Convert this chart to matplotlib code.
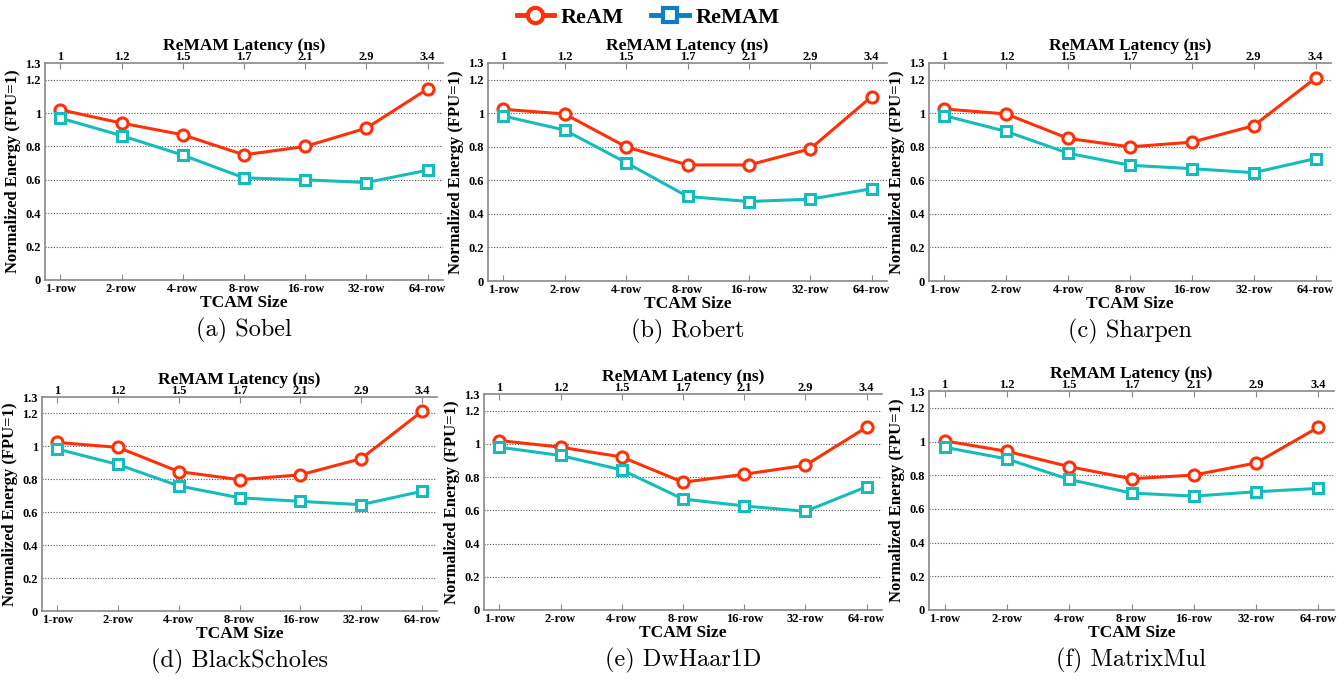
import numpy as np
import matplotlib
matplotlib.use("Agg")
import matplotlib.pyplot as plt
from matplotlib.lines import Line2D

# TCAM sizes and the matching ReMAM latency on the top axis
sizes = ["1-row", "2-row", "4-row", "8-row", "16-row", "32-row", "64-row"]
latency = ["1", "1.2", "1.5", "1.7", "2.1", "2.9", "3.4"]

captions = ["(a) Sobel", "(b) Robert", "(c) Sharpen",
            "(d) BlackScholes", "(e) DwHaar1D", "(f) MatrixMul"]

# normalized energy, FPU = 1
ream_sobel = [1.02, 0.94, 0.87, 0.75, 0.80, 0.91, 1.145]
remam_sobel = [0.97, 0.865, 0.748, 0.612, 0.60, 0.584, 0.658]
ream_robert = [1.024, 0.996, 0.80, 0.692, 0.692, 0.788, 1.10]
remam_robert = [0.984, 0.90, 0.706, 0.504, 0.474, 0.488, 0.55]
ream_sharpen = [1.026, 0.996, 0.85, 0.80, 0.828, 0.926, 1.21]
remam_sharpen = [0.986, 0.892, 0.762, 0.69, 0.67, 0.646, 0.73]
ream_bs = [1.024, 0.994, 0.847, 0.798, 0.827, 0.925, 1.212]
remam_bs = [0.984, 0.89, 0.76, 0.688, 0.666, 0.646, 0.727]
ream_haar = [1.02, 0.98, 0.921, 0.769, 0.817, 0.871, 1.10]
remam_haar = [0.98, 0.93, 0.843, 0.668, 0.626, 0.594, 0.742]
ream_mm = [1.004, 0.942, 0.851, 0.779, 0.801, 0.873, 1.085]
remam_mm = [0.966, 0.897, 0.775, 0.694, 0.676, 0.702, 0.722]

ream = [ream_sobel, ream_robert, ream_sharpen, ream_bs, ream_haar, ream_mm]
remam = [remam_sobel, remam_robert, remam_sharpen, remam_bs, remam_haar, remam_mm]

RED = "#ff3008"
TEAL = "#15bcbc"
BLUE = "#0a7fc6"
W, H = 1338, 679

# axes boxes in pixels: left, top, right, bottom
boxes = [(45, 63, 443, 280), (488, 63, 887, 281), (929, 63, 1331, 281),
         (42, 397, 437, 611), (484, 394, 882, 610), (929, 391, 1334, 610)]

bold = dict(family="Liberation Serif", weight="bold")

fig = plt.figure(figsize=(W / 100, H / 100), dpi=100)
x = np.arange(len(sizes))

for i, (l, t, r, b) in enumerate(boxes):
    ax = fig.add_axes([l / W, 1 - b / H, (r - l) / W, (b - t) / H])
    ax.plot(x, ream[i], color=RED, lw=2.2, marker="o", ms=8, mfc="white",
            mec=RED, mew=2.2, zorder=3)
    ax.plot(x, remam[i], color=TEAL, lw=2.2, marker="s", ms=7.5, mfc="white",
            mec=TEAL, mew=2.2, zorder=3)
    ax.set_xlim(-0.25, 6.25)
    ax.set_ylim(0, 1.3)
    ax.set_yticks([0, 0.2, 0.4, 0.6, 0.8, 1.0, 1.2, 1.3])
    ax.set_yticklabels(["0", "0.2", "0.4", "0.6", "0.8", "1", "1.2", "1.3"],
                       fontsize=9, **bold)
    for yv in [0.2, 0.4, 0.6, 0.8, 1.0, 1.2]:
        ax.axhline(yv, color="#555555", lw=0.8, ls=(0, (1, 1.5)), zorder=1)
    ax.set_xticks(x)
    ax.set_xticklabels(sizes, fontsize=9, **bold)
    ax.tick_params(axis="x", direction="in", length=4, color="#888888", pad=2)
    ax.tick_params(axis="y", length=0, pad=3)
    for s in ["left", "bottom", "top"]:
        ax.spines[s].set_color("#888888")
        ax.spines[s].set_linewidth(1.2)
    ax.spines["right"].set_visible(False)
    ax.set_xlabel("TCAM Size", fontsize=12.5, labelpad=0, **bold)
    ax.set_ylabel("Normalized Energy (FPU=1)", fontsize=12, labelpad=3, **bold)

    top = ax.twiny()
    top.set_xlim(ax.get_xlim())
    top.set_xticks(x)
    top.set_xticklabels(latency, fontsize=9, **bold)
    top.tick_params(axis="x", direction="in", length=4, color="#888888", pad=0)
    for s in ["left", "right", "bottom", "top"]:
        top.spines[s].set_visible(False)
    top.set_xlabel("ReMAM Latency (ns)", fontsize=12.5, labelpad=1, **bold)

    fig.text((l + r) / 2 / W, 1 - (b + 50) / H, captions[i], ha="center",
             va="center", fontsize=17.5, family="cmr10")

handles = [Line2D([], [], color=RED, lw=3.5, marker="o", ms=11, mfc="white",
                  mec=RED, mew=3),
           Line2D([], [], color=BLUE, lw=3.5, marker="s", ms=10, mfc="white",
                  mec=BLUE, mew=3)]
fig.legend(handles, ["ReAM", "ReMAM"], loc="center", ncol=2,
           bbox_to_anchor=(648 / W, 1 - 18 / H), frameon=False,
           prop=dict(family="Liberation Serif", weight="bold", size=16),
           handlelength=1.7, columnspacing=1.2, handletextpad=0.3)

fig.savefig("out.png", dpi=100)
